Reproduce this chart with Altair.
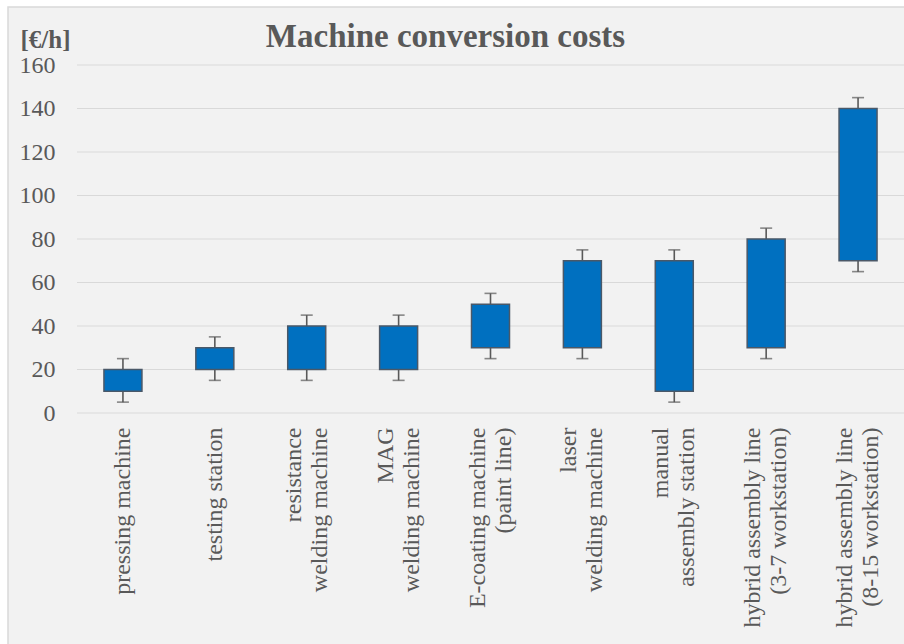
import altair as alt
import pandas as pd

categories = [
    "pressing machine",
    "testing station",
    "resistance\nwelding machine",
    "MAG\nwelding machine",
    "E-coating machine\n(paint line)",
    "laser\nwelding machine",
    "manual\nassembly station",
    "hybrid assembly line\n(3-7 workstation)",
    "hybrid assembly line\n(8-15 workstation)",
]
low = [5, 15, 15, 15, 25, 25, 5, 25, 65]
bar_low = [10, 20, 20, 20, 30, 30, 10, 30, 70]
bar_high = [20, 30, 40, 40, 50, 70, 70, 80, 140]
high = [25, 35, 45, 45, 55, 75, 75, 85, 145]
y_ticks = [0, 20, 40, 60, 80, 100, 120, 140, 160]

df = pd.DataFrame({"cat": categories, "low": low, "q1": bar_low, "q3": bar_high, "high": high})
grid_df = pd.DataFrame({"v": y_ticks})

GRAY = "#595959"
FONT = "Liberation Serif"

x_enc = alt.X(
    "cat:N",
    sort=categories,
    title=None,
    scale=alt.Scale(paddingInner=0, paddingOuter=0),
    axis=alt.Axis(
        labelAngle=-90,
        labelAlign="right",
        labelBaseline="middle",
        labelExpr="split(datum.label, '\\n')",
        labelOffset={"condition": {"test": "indexof(datum.label, '\\n') >= 0", "value": -13}, "value": 0},
        labelFont=FONT,
        labelFontSize=24,
        labelColor=GRAY,
        labelLineHeight=26,
        labelPadding=14,
        ticks=False,
        domain=False,
        grid=False,
        labelLimit=0,
        zindex=1,
    ),
)

y_scale = alt.Scale(domain=[0, 160], nice=False)
y_axis = alt.Axis(
    values=y_ticks,
    title="[€/h]",
    titleAngle=0,
    titleX=-57,
    titleY=-18,
    titleAlign="left",
    titleBaseline="alphabetic",
    titleFont=FONT,
    titleFontSize=25,
    titleFontWeight="bold",
    titleColor=GRAY,
    labelFont=FONT,
    labelFontSize=24,
    labelColor=GRAY,
    labelPadding=22,
    ticks=False,
    domain=False,
    grid=False,
    zindex=1,
)

base = alt.Chart(df)

frame = alt.Chart(alt.Data(values=[{}])).mark_rect(
    fill="#f2f2f2", stroke="#d9d9d9", strokeWidth=1.5
).encode(
    x=alt.value(-69), x2=alt.value(840), y=alt.value(-58), y2=alt.value(590)
)

grid = alt.Chart(grid_df).mark_rule(color="#d9d9d9", strokeWidth=1.2).encode(
    y=alt.Y("v:Q", scale=y_scale, axis=y_axis),
    x=alt.value(0),
    x2=alt.value(827),
)

upper = base.mark_rule(color=GRAY, strokeWidth=1.6).encode(
    x=x_enc, y=alt.Y("q3:Q", scale=y_scale, axis=y_axis), y2="high:Q"
)
lower = base.mark_rule(color=GRAY, strokeWidth=1.6).encode(
    x=x_enc, y=alt.Y("low:Q", scale=y_scale, axis=y_axis), y2="q1:Q"
)
cap_hi = base.mark_tick(color=GRAY, size=12, thickness=1.6).encode(
    x=x_enc, y=alt.Y("high:Q", scale=y_scale, axis=y_axis)
)
cap_lo = base.mark_tick(color=GRAY, size=12, thickness=1.6).encode(
    x=x_enc, y=alt.Y("low:Q", scale=y_scale, axis=y_axis)
)
bars = base.mark_bar(size=38, color="#0070c0", stroke="#4a5868", strokeWidth=1.5).encode(
    x=x_enc, y=alt.Y("q1:Q", scale=y_scale, axis=y_axis), y2="q3:Q"
)

chart = alt.layer(frame, grid, upper, lower, cap_hi, cap_lo, bars).properties(
    width=827,
    height=348,
    title=alt.TitleParams(
        "Machine conversion costs",
        font=FONT,
        fontSize=33,
        fontWeight="bold",
        color=GRAY,
        anchor="middle",
        baseline="alphabetic",
        dx=-45,
        dy=74,
        offset=0,
    ),
    autosize=alt.AutoSizeParams(type="none"),
    padding={"left": 77, "top": 65, "right": 0, "bottom": 231},
    background="white",
).configure_view(stroke=None)

chart.save("out.html", embed_options={"renderer": "svg", "actions": False})
